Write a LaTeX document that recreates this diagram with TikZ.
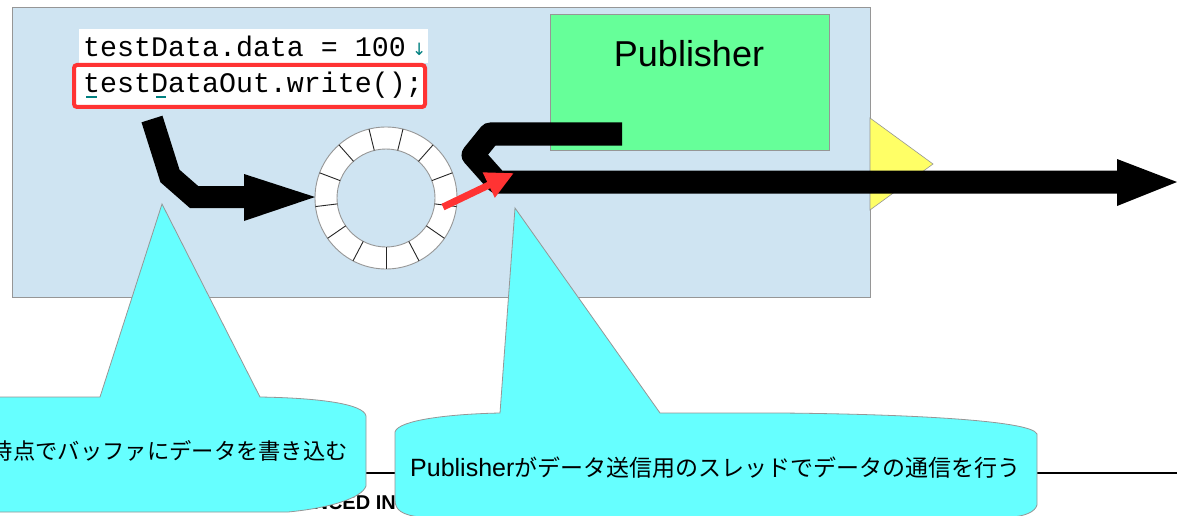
\documentclass[tikz,border=0pt]{standalone}
\usepackage{fontspec}
\setmainfont{Liberation Sans}
\setmonofont{Liberation Mono}
\newfontfamily\cjk{Noto Sans CJK JP}
\newfontfamily\djv{DejaVu Sans}
\usetikzlibrary{arrows.meta,calc}
\definecolor{bluebg}{RGB}{207,228,242}
\definecolor{pubgreen}{RGB}{102,255,153}
\definecolor{callcyan}{RGB}{102,255,255}
\definecolor{tri}{RGB}{255,255,102}
\definecolor{redc}{RGB}{255,51,51}
\definecolor{edgegray}{RGB}{150,150,150}
\definecolor{teal2}{RGB}{0,128,128}
\tikzset{
  panel/.style={fill=bluebg,draw=edgegray,line width=0.8pt},
  pubbox/.style={fill=pubgreen,draw=edgegray,line width=0.8pt},
  codeline/.style={font=\ttfamily\fontsize{28.3}{30}\selectfont,inner sep=0pt,anchor=base west},
  callout/.style={fill=callcyan,draw=edgegray,line width=0.8pt},
  fatline/.style={line width=23pt,draw=black},
  calltext/.style={inner sep=0pt,anchor=base west},
}
\begin{document}
\begin{tikzpicture}[x=1pt,y=-1pt]
\useasboundingbox (0,0) rectangle (1177,516);
\fill[white] (0,0) rectangle (1177,516);
% separator line and footer text (behind callouts)
\coordinate (hl1) at (0,473);
\coordinate (hl2) at (1177,473);
\draw[line width=1.5pt] (hl1) -- (hl2);
\node[font=\bfseries\fontsize{20}{22}\selectfont,inner sep=0pt,anchor=base east] (footer) at (396,509) {ADVANCED IN};
% panel
\node[panel,minimum width=858pt,minimum height=290pt,inner sep=0pt,anchor=north west] (frame) at (12,7) {};
% yellow triangle
\draw[fill=tri,draw=edgegray,line width=0.6pt] (870,118) -- (933,164) -- (870,210) -- cycle;
% code
\fill[white] (79,29) rectangle (428,63);
\fill[white] (76,66) rectangle (423,106);
\node[codeline] (code1) at (83,57) {testData.data = 100};
\node[inner sep=0pt,anchor=base west,text=teal2,font=\djv\fontsize{17}{18}\selectfont] (lf) at (412,56) {↓};
\node[codeline] (code2) at (83,93) {testDataOut.write();};
\draw[teal2,line width=1.8pt] (86,97) -- (97,97) (156,97) -- (166,97);
\draw[redc,line width=4pt,rounded corners=3pt] (74,65) rectangle (425,107);
% publisher
\node[pubbox,minimum width=279pt,minimum height=136pt,inner sep=0pt,anchor=north west] (pub) at (550,14) {};
\node[font=\fontsize{36}{38}\selectfont,inner sep=0pt] (publabel) at (689,54) {Publisher};
% ring buffer
\coordinate (ring) at (386,198);
\fill[white,even odd rule] (ring) circle[radius=71] (ring) circle[radius=49];
\draw[edgegray,line width=0.9pt] (ring) circle[radius=71] (ring) circle[radius=49];
\foreach \i in {0,...,12}{
  \draw[line width=0.9pt,black!85] ($(ring)+({90+\i*360/13}:49)$) -- ($(ring)+({90+\i*360/13}:71)$);
}
% arrow 1: write into buffer
\coordinate (a1s) at (152,119);
\coordinate (a1b) at (170,176);
\coordinate (a1c) at (194,197);
\coordinate (a1d) at (246,197);
\draw[fatline,line width=22pt,line join=miter] (a1s) -- (a1b) -- (a1c) -- (a1d);
\fill[black] (244,174) -- (315,197) -- (244,221) -- cycle;
% arrow 2: publisher output
\coordinate (a2s) at (622,134);
\coordinate (a2b) at (490,134);
\coordinate (a2c) at (473,155);
\coordinate (a2d) at (497,182);
\coordinate (a2e) at (1120,182);
\draw[fatline,line join=round] (a2s) -- (a2b) -- (a2c) -- (a2d) -- (a2e);
\fill[black] (1117,159) -- (1177,182) -- (1117,206) -- cycle;
% red arrow
\coordinate (r1) at (443,207);
\coordinate (r2) at (514,173);
\draw[redc,line width=7pt,-{Triangle[length=28pt,width=26pt]}] (r1) -- (r2);
% callouts
\draw[callout] (-20,397) -- (100,397) -- (162,204) -- (260,397)
  .. controls (320,398) and (364,404) .. (366,416) -- (366,486)
  .. controls (362,498) and (330,508) .. (288,512) -- (-20,512) -- cycle;
\node[calltext,anchor=base east,font=\cjk\fontsize{22.3}{24}\selectfont] (t1) at (348,459) {時点でバッファにデータを書き込む};
\draw[callout] (395,432) .. controls (398,420) and (450,414) .. (500,413) -- (515,208) -- (660,413)
  -- (780,413) .. controls (900,414) and (1032,420) .. (1037,434) -- (1037,505)
  .. controls (1035,512) and (1025,516) .. (1012,517) -- (420,517)
  .. controls (402,515) and (395,510) .. (395,500) -- cycle;
\node[calltext] (t2) at (410,476) {\fontsize{25}{27}\selectfont Publisher\cjk\fontsize{23}{25}\selectfont がデータ送信用のスレッドでデータの通信を行う};
\end{tikzpicture}
\end{document}
